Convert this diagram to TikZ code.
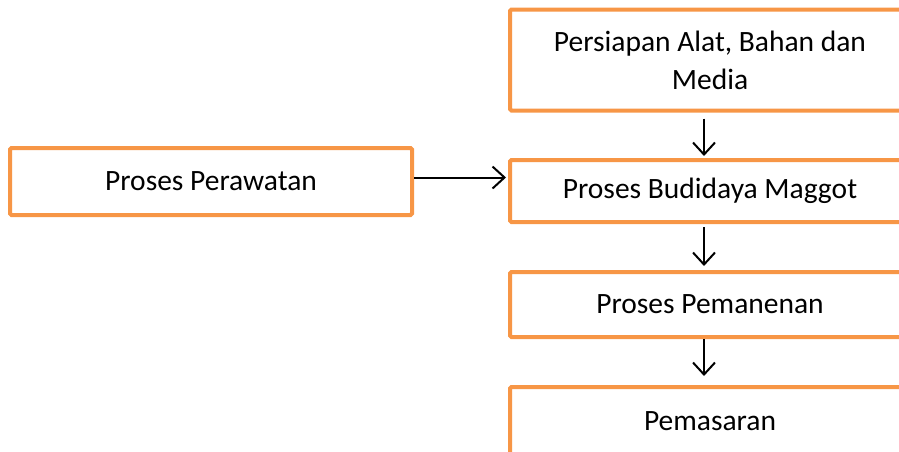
\documentclass[tikz,border=0pt]{standalone}
\usepackage{fontspec}
\setmainfont{Carlito}
\usetikzlibrary{arrows.meta,positioning}
\definecolor{jingga}{HTML}{F79646}

\begin{document}
\begin{tikzpicture}[x=1pt,y=-1pt,
	kotak/.style={draw=jingga,line width=4pt,rounded corners=1.5pt,fill=white,
		minimum width=400pt,inner sep=0pt,align=center,
		font=\fontsize{29.5}{38}\selectfont},
	panah/.style={-{Straight Barb[length=12pt,width=22pt]},line width=2pt}]
	
		\useasboundingbox (0,0) rectangle (899,451);
		
		\node[kotak,minimum height=101pt] (alat) at (710,60) {Persiapan Alat, Bahan dan\\Media};
		\node[kotak,minimum height=62pt] (budidaya) at (710,191) {Proses Budidaya Maggot};
		\node[kotak,minimum height=65pt] (panen) at (710,304.5) {Proses Pemanenan};
		\node[kotak,minimum height=68pt] (pasar) at (710,421) {Pemasaran};
		\node[kotak,minimum width=402pt,minimum height=67pt] (rawat) at (211,181.5) {Proses Perawatan};
		
		\draw[panah,shorten <=6pt,shorten >=2pt] ([xshift=-6pt]alat.south) -- ([xshift=-6pt]budidaya.north);
		\draw[panah,shorten <=3pt,shorten >=4pt] ([xshift=-6pt]budidaya.south) -- ([xshift=-6pt]panen.north);
		\draw[panah,shorten >=9pt] ([xshift=-6pt]panen.south) -- ([xshift=-6pt]pasar.north);
		\draw[panah,shorten >=2pt] ([yshift=4pt]rawat.east) -- ([yshift=4pt]rawat.east -| budidaya.west);
		
\end{tikzpicture}
\end{document}
